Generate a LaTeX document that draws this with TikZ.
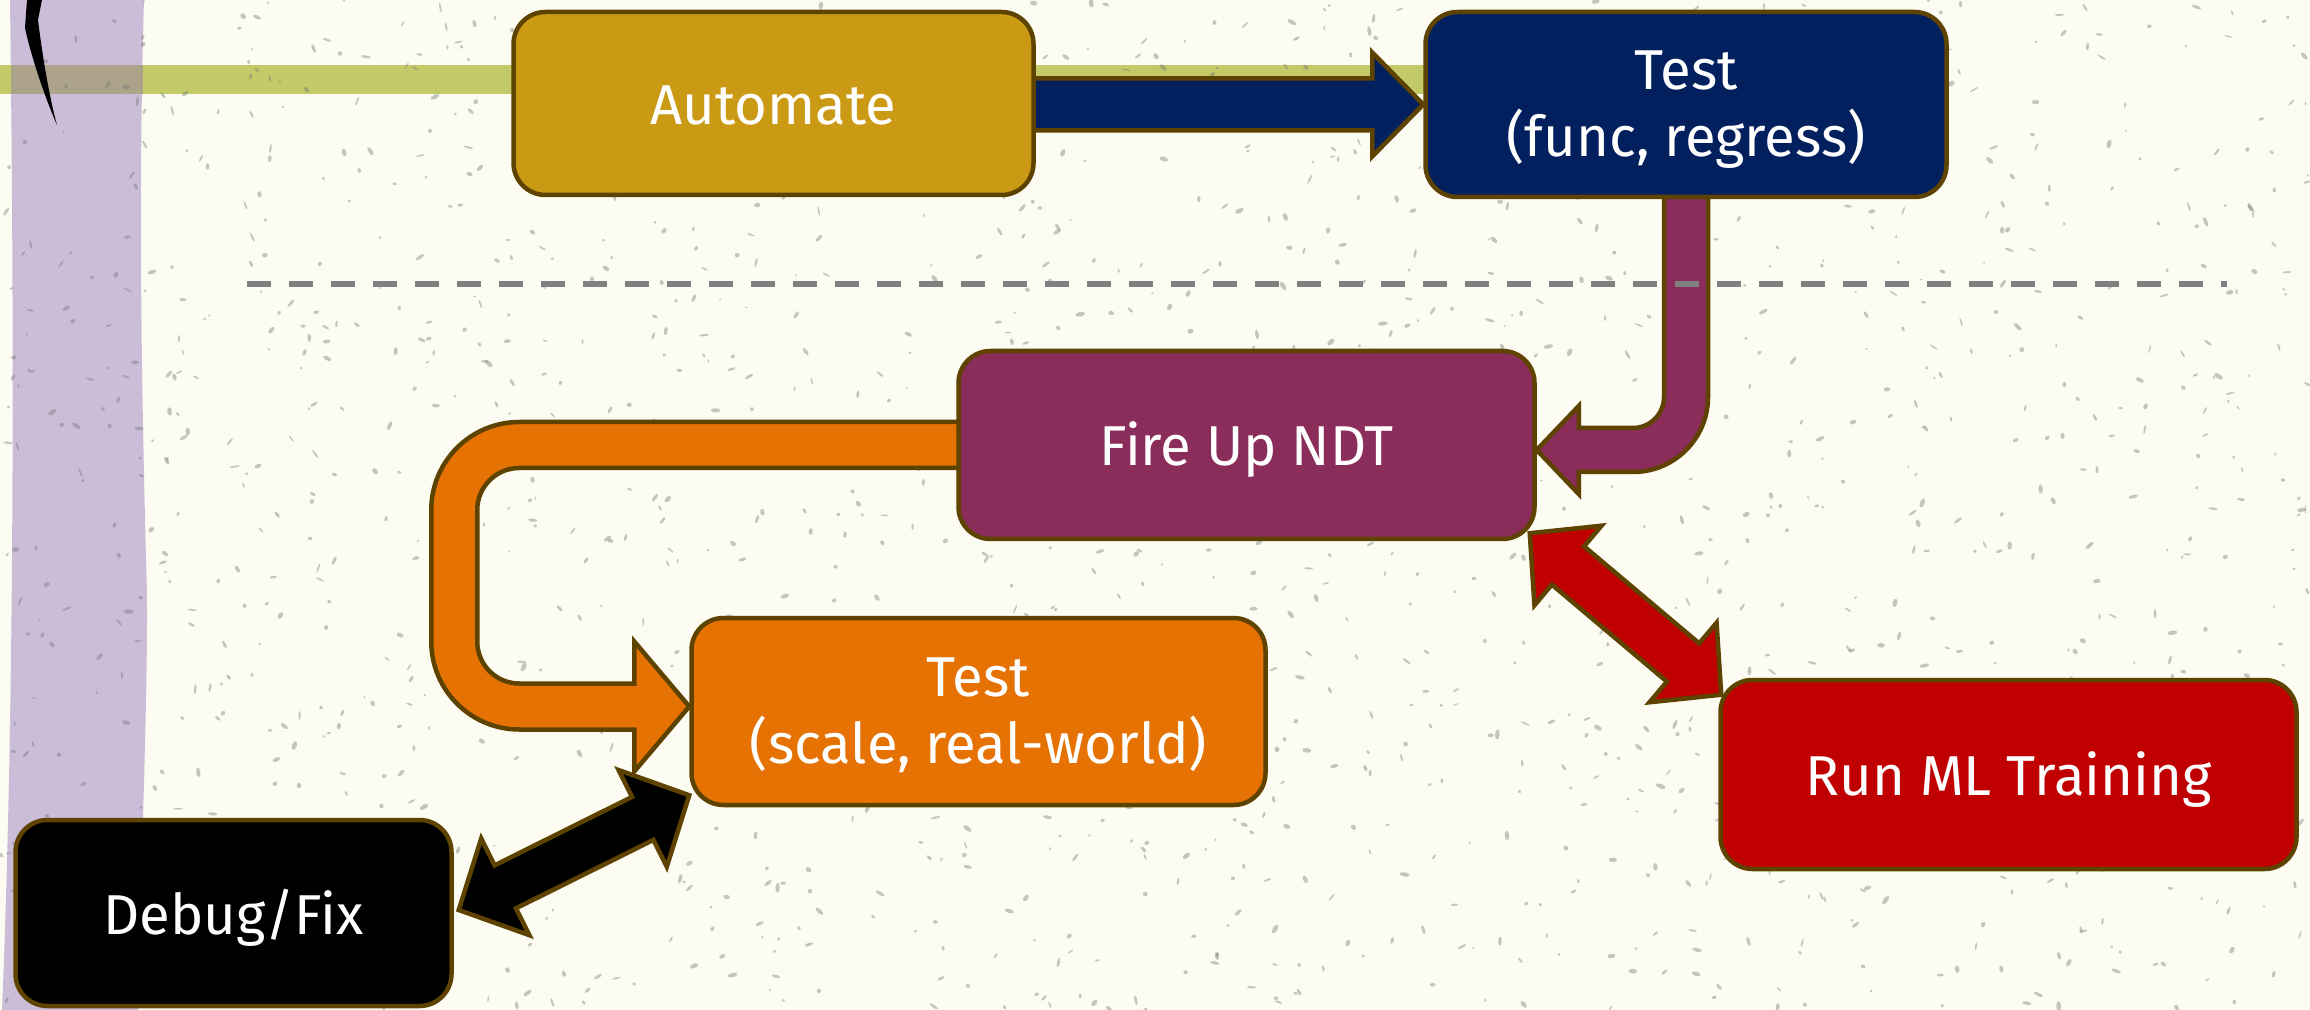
\documentclass[tikz,border=0pt]{standalone}
\usepackage{fontspec}
\setmainfont{Fira Sans}
\usetikzlibrary{calc}
\definecolor{bgc}{HTML}{FCFCF3}
\definecolor{brd}{HTML}{5E4300}
\definecolor{gold}{HTML}{CB9A14}
\definecolor{navyc}{HTML}{03205E}
\definecolor{plum}{HTML}{8A2D5A}
\definecolor{orng}{HTML}{E57203}
\definecolor{redc}{HTML}{C00000}
\definecolor{lav}{HTML}{CBBCD8}
\definecolor{lime}{HTML}{C5CA69}
\definecolor{mix}{HTML}{ADA38B}
\definecolor{sepgray}{HTML}{808080}
\pgfdeclarelayer{bg}\pgfdeclarelayer{arr}\pgfdeclarelayer{top}
\pgfsetlayers{bg,arr,main,top}
% text lowered inside its box while the box keeps its natural size
\newcommand\tx[2][-0.8mm]{\raisebox{#1}[\height][\depth]{\begin{tabular}{@{}c@{}}#2\end{tabular}}}
\tikzset{
  box/.style={draw=brd, line width=0.45mm, rounded corners=3.2mm, text=white,
    inner sep=0pt, font=\fontsize{16}{18}\selectfont},
  blk/.style={draw=brd, line width=0.45mm, line join=miter},
  speck/.style={fill=black!55, opacity=0.4},
  sepline/.style={draw=sepgray, line width=0.53mm, dash pattern=on 2.4mm off 1.8mm},
}
% double block arrow: #1 A, #2 B, #3 colour, #4 shaft half, #5 head half, #6 head length
\newcommand\dblarr[6]{%
  \coordinate (da1) at ($(#1)!#6!(#2)$);
  \coordinate (da2) at ($(#2)!#6!(#1)$);
  \filldraw[blk, fill=#3] (#1) -- ($(da1)!#5!90:(#2)$) -- ($(da1)!#4!90:(#2)$)
    -- ($(da2)!#4!-90:(#1)$) -- ($(da2)!#5!-90:(#1)$) -- (#2)
    -- ($(da2)!#5!90:(#1)$) -- ($(da2)!#4!90:(#1)$)
    -- ($(da1)!#4!-90:(#2)$) -- ($(da1)!#5!-90:(#2)$) -- cycle;
}
\begin{document}
\begin{tikzpicture}[x=0.1mm, y=0.1mm]
\useasboundingbox (0,0) rectangle (2310,-1010);

% ---------- boxes ----------
\node[box, fill=gold,  minimum width=52.0mm, minimum height=18.3mm] (auto)  at (773.5,-103.5) {\tx{Automate}};
\node[box, fill=navyc, minimum width=52.1mm, minimum height=18.5mm] (testf) at (1686,-104.5) {\tx[-0.6mm]{Test\\(func, regress)}};
\node[box, fill=plum,  minimum width=57.6mm, minimum height=18.8mm] (fire)  at (1246.5,-445) {\tx{Fire Up NDT}};
\node[box, fill=orng,  minimum width=57.4mm, minimum height=18.7mm] (tests) at (978.5,-711.5) {\tx[-0.6mm]{Test\\(scale, real-world)}};
\node[box, fill=redc,  minimum width=57.6mm, minimum height=18.9mm] (runml) at (2008.5,-774.5) {\tx{Run ML Training}};
\node[box, fill=black, minimum width=43.6mm, minimum height=18.6mm] (debug) at (233.5,-913) {\tx{Debug/Fix}};

% ---------- background ----------
\begin{pgfonlayer}{bg}
  \fill[bgc] (0,0) rectangle (2310,-1010);
  \fill[lav] (10,0) .. controls (14,-300) and (15,-700) .. (2,-1010)
     -- (138,-1010) .. controls (141,-850) and (150,-650) .. (146,-560)
     .. controls (142,-400) and (138,-200) .. (144,0) -- cycle;
  \fill[lime] (0,-65) rectangle (1440,-94);
  \fill[mix] (11,-65) rectangle (143,-94);
  \fill[black] (27,0) -- (25,-28) .. controls (32,-60) and (46,-100) .. (57,-125)
     .. controls (50,-100) and (43,-60) .. (38,-20) -- (42,0) -- cycle;
  \pgfmathsetseed{4242}
  \foreach \i in {1,...,1600}{%
    \pgfmathsetmacro\xx{rnd*2310}%
    \pgfmathsetmacro\yy{-rnd*1010}%
    \pgfmathsetmacro\ra{1.2+rnd*3.8}%
    \pgfmathsetmacro\rb{0.8+rnd*1.6}%
    \pgfmathsetmacro\aa{rnd*180}%
    \fill[speck, rotate around={\aa:(\xx,\yy)}] (\xx,\yy) ellipse [x radius=\ra, y radius=\rb];
  }
\end{pgfonlayer}

% ---------- arrows ----------
\begin{pgfonlayer}{arr}
  % Automate -> Test (func, regress)
  \coordinate (n2) at (testf.west);
  \coordinate (n1) at ($(auto.east |- n2)+(-10,0)$);
  \filldraw[blk, fill=navyc] ($(n1)+(0,26)$) -- ($(n2)+(-51,26)$) -- ($(n2)+(-51,52)$)
     -- (n2) -- ($(n2)+(-51,-52)$) -- ($(n2)+(-51,-26)$) -- ($(n1)+(0,-26)$) -- cycle;

  % Test (func, regress) -> Fire Up NDT (elbow)
  \coordinate (pA) at ($(testf.south)+(0,10)$);
  \coordinate (pC) at ($(pA |- fire.east)+(0,-5)$);
  \coordinate (pT) at (fire.east |- pC);
  \filldraw[blk, fill=plum] ($(pA)+(-22,0)$) -- ($(pC)+(-22,53)$)
     .. controls ($(pC)+(-22,35.9)$) and ($(pC)+(-35.9,22)$) .. ($(pC)+(-53,22)$)
     -- ($(pT)+(42,22)$) -- ($(pT)+(42,44)$) -- (pT) -- ($(pT)+(42,-44)$) -- ($(pT)+(42,-22)$)
     -- ($(pC)+(-53,-22)$)
     .. controls ($(pC)+(-11.6,-22)$) and ($(pC)+(22,11.6)$) .. ($(pC)+(22,53)$)
     -- ($(pA)+(22,0)$) -- cycle;

  % Fire Up NDT -> Test (scale, real-world) (double elbow)
  \coordinate (oS) at ($(fire.west)+(10,0)$);
  \coordinate (oT) at ($(tests.west)+(0,5)$);
  \coordinate (oB) at ($(oT)+(-235,0)$);
  \coordinate (oA) at (oB |- oS);
  \filldraw[blk, fill=orng] ($(oS)+(0,23)$) -- ($(oA)+(65,23)$)
     .. controls ($(oA)+(16.4,23)$) and ($(oA)+(-23,-16.4)$) .. ($(oA)+(-23,-65)$)
     -- ($(oB)+(-23,65)$)
     .. controls ($(oB)+(-23,16.4)$) and ($(oB)+(16.4,-23)$) .. ($(oB)+(65,-23)$)
     -- ($(oT)+(-55,-23)$) -- ($(oT)+(-55,-65)$) -- (oT) -- ($(oT)+(-55,65)$) -- ($(oT)+(-55,23)$)
     -- ($(oB)+(65,23)$)
     .. controls ($(oB)+(41.8,23)$) and ($(oB)+(23,41.8)$) .. ($(oB)+(23,65)$)
     -- ($(oA)+(23,-65)$)
     .. controls ($(oA)+(23,-41.8)$) and ($(oA)+(41.8,-23)$) .. ($(oA)+(65,-23)$)
     -- ($(oS)+(0,-23)$) -- cycle;
\end{pgfonlayer}

\begin{pgfonlayer}{top}
  % Fire Up NDT <-> Run ML Training
  \coordinate (r1) at ($(fire.south east)+(-7,8)$);
  \coordinate (r2) at ($(runml.north west)+(3,-17)$);
  \dblarr{r1}{r2}{redc}{2.5mm}{5.2mm}{5.0mm}
  % Debug/Fix <-> Test (scale, real-world)
  \coordinate (k1) at ($(debug.east)+(5,3)$);
  \coordinate (k2) at ($(tests.south west)+(0,12)$);
  \dblarr{k1}{k2}{black}{2.4mm}{5.4mm}{5.2mm}
  % separator
  \draw[sepline] (247,-284) -- (2227,-284);
\end{pgfonlayer}
\end{tikzpicture}
\end{document}
